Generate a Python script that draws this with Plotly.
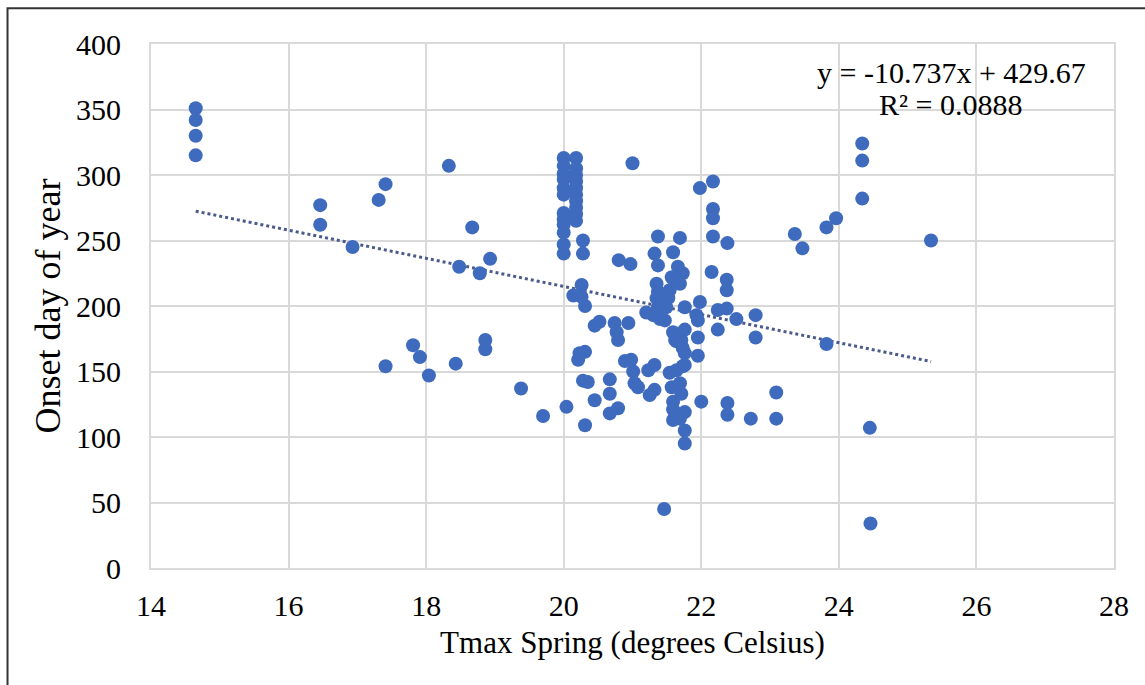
import plotly.graph_objects as go

# Tmax Spring (degrees Celsius) and onset day of year
tmax = [
    14.65, 14.65, 14.65, 14.65,
    16.46, 16.46, 16.93, 17.31, 17.41, 18.33, 18.67, 18.48, 18.78, 18.93,
    17.81, 17.91, 17.41, 18.04, 18.43, 18.86, 18.86,
    19.38, 19.70, 20.04,
    20.00, 20.00, 20.00, 20.00, 20.00, 20.00, 20.00, 20.00, 20.00, 20.00,
    20.00, 20.00,
    20.18, 20.18, 20.18, 20.18, 20.18, 20.18, 20.18, 20.18, 20.18, 20.18,
    20.28, 20.28, 21.00,
    20.26, 20.14, 20.26, 20.31,
    20.45, 20.52, 20.74, 20.77, 20.79, 20.94,
    20.80, 20.97,
    20.31, 20.21, 20.23,
    20.89, 20.98, 21.01, 21.03, 21.08,
    20.28, 20.35, 20.67, 20.67, 20.45, 20.67, 20.79, 20.31,
    21.23, 21.32, 21.25, 21.32,
    21.46,
    21.32, 21.37, 21.59, 21.37, 21.69,
    21.66, 21.73, 21.57, 21.62, 21.69, 21.35, 21.37, 21.35, 21.54, 21.52,
    21.49, 21.20, 21.30, 21.40, 21.47, 21.37, 21.76, 21.98, 21.93, 21.95,
    21.59, 21.69, 21.76, 21.62, 21.71, 21.95,
    21.64, 21.73, 21.76, 21.95,
    21.54, 21.64, 21.73, 21.76,
    21.57, 21.69, 21.71, 21.59, 21.59, 21.76, 21.59, 21.69, 22.00, 21.76, 21.76,
    21.98, 22.17, 22.17, 22.17, 22.17, 22.38, 22.15, 22.37, 22.37,
    22.24, 22.37, 22.51, 22.79, 22.24, 22.79,
    22.38, 22.38, 22.72, 23.09, 23.09,
    23.36, 23.47, 23.82, 23.96, 24.34, 24.34, 24.34, 25.34,
    23.82, 24.45, 24.46,
]
onset = [
    351, 342, 330, 315,
    277, 262, 245, 281, 293, 307, 260, 230, 225, 236,
    170, 161, 154, 147, 156, 174, 167,
    137, 116, 123,
    313, 307, 301, 297, 290, 285, 271, 266, 262, 256,
    247, 240,
    313, 305, 300, 295, 290, 285, 280, 275, 270, 265,
    250, 240, 309,
    216, 208, 207, 200,
    185, 188, 187, 180, 174, 187,
    235, 232,
    165, 159, 164,
    158, 159, 150, 141, 138,
    143, 142, 144, 133, 128, 118, 122, 109,
    151, 155, 132, 136,
    45,
    240, 231, 241, 253, 252,
    230, 225, 222, 218, 217, 217, 211, 206, 212, 206,
    199, 195, 193, 190, 189, 199, 199, 203, 193, 189,
    180, 179, 182, 174, 174, 176,
    173, 168, 164, 162,
    149, 151, 154, 155,
    138, 141, 133, 127, 121, 119, 113, 114, 127, 105, 95,
    290, 295, 274, 267, 253, 248, 226, 220, 212,
    197, 198, 190, 193, 182, 176,
    126, 117, 114, 134, 114,
    255, 244, 260, 267, 324, 311, 282, 250,
    171, 107, 34,
]

slope = -10.737
intercept = 429.67
r2 = 0.0888

x_ticks = [14, 16, 18, 20, 22, 24, 26, 28]
y_ticks = [0, 50, 100, 150, 200, 250, 300, 350, 400]

xmin, xmax = min(tmax), max(tmax)
trend_x = [xmin, xmax]
trend_y = [slope * v + intercept for v in trend_x]

serif = "Liberation Serif, Times New Roman, serif"
grid = "#d9d9d9"

fig = go.Figure()
fig.add_trace(go.Scatter(
    x=trend_x, y=trend_y, mode="lines",
    line=dict(color="#4a5a8a", width=3, dash="dot"),
    showlegend=False, hoverinfo="skip"))
fig.add_trace(go.Scatter(
    x=tmax, y=onset, mode="markers",
    marker=dict(color="#3f6bbe", size=14, line=dict(width=0)),
    showlegend=False))

fig.update_layout(
    width=1145, height=685,
    margin=dict(l=151, r=31, t=44, b=117),
    paper_bgcolor="white", plot_bgcolor="white",
    font=dict(family=serif, size=30, color="black"),
    xaxis=dict(range=[14, 28], tickvals=x_ticks, ticktext=[str(v) for v in x_ticks],
               showgrid=True, gridcolor=grid, gridwidth=2,
               showline=True, linecolor=grid, linewidth=2, mirror=True,
               zeroline=False, ticks="", ticklabelstandoff=10,
               tickfont=dict(family=serif, size=30),
               title=dict(text="Tmax Spring (degrees Celsius)", standoff=10,
                          font=dict(family=serif, size=31))),
    yaxis=dict(range=[0, 400], tickvals=y_ticks, ticktext=[str(v) for v in y_ticks],
               showgrid=True, gridcolor=grid, gridwidth=2,
               showline=True, linecolor=grid, linewidth=2, mirror=True,
               zeroline=False, ticks="", ticklabelstandoff=22,
               tickfont=dict(family=serif, size=30),
               title=dict(text="Onset day of year", standoff=4,
                          font=dict(family=serif, size=36))),
    annotations=[
        dict(text=f"y = {slope}x + {intercept}", xref="paper", yref="paper",
             x=0.973, y=0.946, xanchor="right", yanchor="middle", showarrow=False,
             font=dict(family=serif, size=30, color="black")),
        dict(text=f"R² = {r2}", xref="paper", yref="paper",
             x=0.83, y=0.885, xanchor="center", yanchor="middle", showarrow=False,
             font=dict(family=serif, size=30, color="black")),
    ],
    shapes=[
        dict(type="rect", xref="paper", yref="paper",
             x0=-0.149, x1=1.06, y0=-0.3, y1=1.068,
             line=dict(color="#333333", width=2), fillcolor="rgba(0,0,0,0)",
             layer="below"),
    ],
)

fig.write_html("out.html")
